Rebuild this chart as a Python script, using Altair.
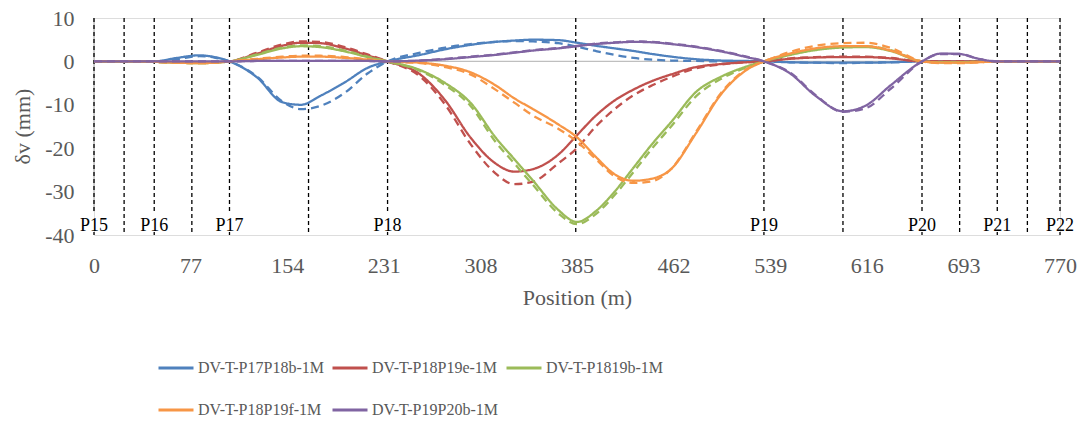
import altair as alt
import pandas as pd

# ---------------- data ----------------
POS = [0, 24, 48, 66, 84, 96, 108, 130, 150, 165, 180, 200, 218, 234, 260, 280, 300, 320, 335, 350,
       370, 385, 400, 415, 430, 445, 460, 480, 500, 520, 534, 555, 575, 597, 615, 635, 660, 675, 690,
       705, 720, 745, 770]

SERIES = ["DV-T-P17P18b-1M", "DV-T-P18P19e-1M", "DV-T-P1819b-1M", "DV-T-P18P19f-1M", "DV-T-P19P20b-1M"]
COLORS = ["#4F81BD", "#C0504D", "#9BBB59", "#F79646", "#8064A2"]

B_SOLID = [0, 0, 0, 0.8, 1.4, 1.0, 0, -3.7, -9.4, -10.0, -8.0, -4.8, -1.5, 0, 1.5, 2.8, 3.8, 4.5, 4.8, 5.0,
           4.9, 4.3, 3.6, 3.0, 2.4, 1.7, 1.1, 0.5, 0.2, 0.1, 0, -0.2, -0.3, -0.3, -0.3, -0.2, 0, 0, 0,
           0, 0, 0, 0]
B_DASH = [0, 0, 0, 0.5, 1.2, 0.9, 0, -3.5, -9.2, -11.0, -10.3, -7.2, -2.8, 0, 2.0, 3.2, 4.0, 4.5, 4.7, 4.6,
          4.2, 3.4, 2.4, 1.5, 0.8, 0.4, 0.2, 0.1, 0, 0, 0, -0.2, -0.3, -0.4, -0.3, -0.2, 0, 0, 0,
          0, 0, 0, 0]
R_SOLID = [0, 0, -0.1, -0.2, -0.3, -0.2, 0, 1.8, 3.6, 4.3, 4.2, 3.0, 1.4, 0, -3.0, -9.0, -17.5, -23.5, -25.4, -24.8,
           -21.5, -17.0, -12.5, -9.0, -6.5, -4.5, -3.0, -1.3, -0.6, -0.2, 0, 0.6, 0.9, 1.0, 1.0, 0.7, 0, 0, 0,
           0, 0, 0, 0]
R_DASH = [0, 0, -0.1, -0.2, -0.3, -0.2, 0, 2.0, 3.9, 4.6, 4.5, 3.3, 1.6, 0, -3.5, -10.0, -19.0, -25.8, -28.3, -27.7,
          -23.5, -20.0, -15.0, -11.0, -7.8, -5.5, -3.6, -1.6, -0.7, -0.2, 0, 0.7, 1.0, 1.1, 1.1, 0.8, 0, 0, 0,
          0, 0, 0, 0]
G_SOLID = [0, 0, -0.1, -0.3, -0.4, -0.3, 0, 1.5, 3.0, 3.5, 3.3, 2.3, 1.0, 0, -2.0, -5.0, -9.5, -17.5, -22.5, -27.5,
           -34.2, -37.0, -34.5, -30.0, -24.5, -19.0, -14.0, -7.0, -3.5, -1.2, 0, 1.5, 2.6, 3.2, 3.3, 2.4, 0, -0.2, -0.2,
           -0.1, 0, 0, 0]
G_DASH = [0, 0, -0.1, -0.3, -0.4, -0.3, 0, 1.6, 3.2, 3.7, 3.5, 2.5, 1.1, 0, -2.2, -5.5, -10.2, -18.5, -23.5, -28.5,
          -35.0, -37.5, -35.2, -30.8, -25.5, -20.0, -15.0, -8.0, -4.0, -1.4, 0, 1.6, 2.8, 3.4, 3.5, 2.6, 0, -0.2, -0.2,
          -0.1, 0, 0, 0]
O_SOLID = [0, 0, -0.1, -0.3, -0.4, -0.3, 0, 0.5, 0.9, 1.1, 1.1, 0.8, 0.4, 0, -0.3, -1.0, -2.5, -5.5, -8.5, -11.0,
           -14.5, -17.5, -22.0, -26.0, -27.5, -27.0, -24.8, -16.5, -7.5, -2.0, 0, 1.8, 3.0, 3.5, 3.5, 2.5, 0, -0.3, -0.3,
           -0.2, 0, 0, 0]
O_DASH = [0, 0, -0.1, -0.3, -0.4, -0.3, 0, 0.6, 1.1, 1.3, 1.3, 1.0, 0.5, 0, -0.4, -1.3, -3.0, -6.5, -9.5, -12.5,
          -15.5, -18.5, -22.5, -26.5, -28.0, -27.6, -24.8, -16.2, -7.2, -1.8, 0, 2.2, 3.6, 4.2, 4.3, 3.1, 0, -0.4, -0.4,
          -0.2, 0, 0, 0]
P_SOLID = [0, 0, 0, 0, 0, 0, 0, 0.1, 0.1, 0.1, 0.1, 0.1, 0.1, 0, 0.2, 0.5, 1.0, 1.5, 2.0, 2.5,
           3.0, 3.5, 4.0, 4.3, 4.5, 4.4, 4.0, 3.3, 2.3, 1.0, 0, -2.8, -7.9, -11.5, -10.2, -5.5, 0, 1.8, 1.7,
           0.6, 0, 0, 0]
P_DASH = [0, 0, 0, 0, 0, 0, 0, 0.1, 0.1, 0.1, 0.1, 0.1, 0.1, 0, 0.2, 0.6, 1.1, 1.6, 2.1, 2.6,
          3.1, 3.6, 4.1, 4.4, 4.6, 4.5, 4.1, 3.4, 2.4, 1.1, 0, -2.6, -7.7, -11.6, -10.8, -6.3, 0, 1.7, 1.7,
          0.6, 0, 0, 0]

SOLID = [B_SOLID, R_SOLID, G_SOLID, O_SOLID, P_SOLID]
DASHED = [B_DASH, R_DASH, G_DASH, O_DASH, P_DASH]

PIER_POS = [0, 48, 108, 234, 534, 660, 720, 770]
PIER_NAMES = ["P15", "P16", "P17", "P18", "P19", "P20", "P21", "P22"]
MID_POS = [24, 78, 171, 384, 597, 690, 744]

X_TICKS = [0, 77, 154, 231, 308, 385, 462, 539, 616, 693, 770]
Y_TICKS = [10, 0, -10, -20, -30, -40]

# ---------------- tables ----------------
rows = []
for name, sol, das in zip(SERIES, SOLID, DASHED):
    for p, v in zip(POS, sol):
        rows.append({"pos": p, "v": v, "series": name, "kind": "solid"})
    for p, v in zip(POS, das):
        rows.append({"pos": p, "v": v, "series": name, "kind": "dashed"})
df = pd.DataFrame(rows)

seg = []
for p in PIER_POS:
    seg.append({"pos": p, "v": 10, "v2": -34.5})
    seg.append({"pos": p, "v": -39.3, "v2": -40})
for p in MID_POS:
    seg.append({"pos": p, "v": 10, "v2": -40})
seg_df = pd.DataFrame(seg)

lab_df = pd.DataFrame({"pos": PIER_POS, "name": PIER_NAMES, "v": [-38.0] * len(PIER_POS)})
zero_df = pd.DataFrame({"v": [0]})
yaxis_df = pd.DataFrame({"pos": [0], "v": [10], "v2": [-34.5]})

FONT = "'Liberation Serif', 'Times New Roman', Times, 'DejaVu Serif', serif"
GREY = "#595959"

x_scale = alt.Scale(domain=[0, 770], nice=False, zero=False)
y_scale = alt.Scale(domain=[-40, 10], nice=False, zero=False)

X_AXIS = alt.Axis(values=X_TICKS, title="Position (m)", domain=False, ticks=False, grid=False,
                  labelFont=FONT, labelFontSize=22, labelColor=GREY, labelPadding=20,
                  titleFont=FONT, titleFontSize=22, titleColor=GREY, titleFontWeight="normal",
                  titlePadding=11, labelFlush=False, labelOverlap=False)
Y_AXIS = alt.Axis(values=Y_TICKS, title="δv (mm)", domain=False, ticks=False, grid=False,
                  labelExpr="'' + datum.value",
                  labelFont=FONT, labelFontSize=22, labelColor=GREY, labelPadding=20,
                  titleFont=FONT, titleFontSize=22, titleColor=GREY, titleFontWeight="normal",
                  titleX=-72, titleY=108, titleBaseline="middle", titleAlign="center", titleAngle=270,
                  labelFlush=False, labelOverlap=False)

X = alt.X("pos:Q", scale=x_scale, axis=X_AXIS)
Y = alt.Y("v:Q", scale=y_scale, axis=Y_AXIS)

zero_line = alt.Chart(zero_df).mark_rule(color="#BFBFBF", strokeWidth=1.2).encode(
    y=alt.Y("v:Q", scale=y_scale, axis=Y_AXIS))

y_line = alt.Chart(yaxis_df).mark_rule(color="#BFBFBF", strokeWidth=1.5).encode(
    x=X, y=Y, y2="v2:Q")

piers = alt.Chart(seg_df).mark_rule(color="black", strokeWidth=1.3, strokeDash=[4, 3]).encode(
    x=X, y=Y, y2="v2:Q")

lines = alt.Chart(df).mark_line(strokeWidth=2.3, interpolate="monotone").encode(
    x=X, y=Y,
    color=alt.Color("series:N", scale=alt.Scale(domain=SERIES, range=COLORS),
                    legend=alt.Legend(title=None, orient="none", legendX=63, legendY=331,
                                      columns=3, direction="horizontal",
                                      symbolType="stroke", symbolSize=1225, symbolStrokeWidth=3,
                                      labelFont=FONT, labelFontSize=16, labelColor=GREY,
                                      labelOffset=3, labelLimit=0, columnPadding=2, rowPadding=15,
                                      padding=0)),
    strokeDash=alt.StrokeDash("kind:N", scale=alt.Scale(domain=["solid", "dashed"],
                                                         range=[[1, 0], [8, 5]]), legend=None),
    detail="kind:N",
)

labels = alt.Chart(lab_df).mark_text(font=FONT, fontSize=18, color="black",
                                     baseline="middle", align="center").encode(
    x=X, y=Y, text="name:N")

chart = alt.layer(zero_line, y_line, piers, lines, labels).properties(
    width=966, height=217,
    padding={"left": 94, "top": 18, "right": 23, "bottom": 188},
    autosize=alt.AutoSizeParams(type="none"),
).configure_view(stroke=None).configure(background="white")

chart.save("out.html", embed_options={"renderer": "svg", "actions": False})
